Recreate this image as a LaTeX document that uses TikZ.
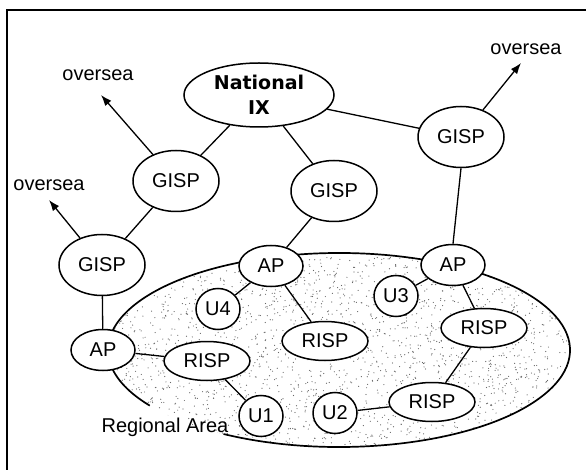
\documentclass[tikz,border=0pt]{standalone}
\usepackage{fontspec}
\setmainfont{Liberation Sans}
\newfontfamily\ixfont{DejaVu Sans}
\usetikzlibrary{shapes.geometric,arrows.meta,calc}

\tikzset{
  net/.style={ellipse, draw=black, line width=1.5pt, fill=white, inner sep=0pt,
    font=\fontsize{20}{22}\selectfont},
  gisp/.style={net, minimum width=86pt, minimum height=61pt},
  apnode/.style={net, minimum width=64pt, minimum height=41pt},
  risp/.style={net, minimum width=86pt, minimum height=39pt},
  user/.style={net, minimum width=44pt, minimum height=41pt},
  link/.style={draw=black, line width=1.3pt},
  abroad/.style={link, -{Latex[length=11pt,width=8pt]}},
  lbl/.style={font=\fontsize{20}{22}\selectfont, inner sep=0pt}
}

\begin{document}
\begin{tikzpicture}[x=1pt, y=1pt]
  \useasboundingbox (0,0) rectangle (586,-470);

  % outer frame (runs past the right and bottom edges)
  \draw[line width=1.6pt] (7,-600) -- (7,-10) -- (700,-10);

  % stippled regional area
  \begin{scope}
    \clip (339,-350) ellipse [x radius=231, y radius=97];
    \pgfmathsetseed{11}
    \foreach \i in {1,...,2600}{
      \fill[black!60] ({104+470*rnd},{-250-200*rnd}) circle [radius=0.6];
    }
  \end{scope}
  \draw[line width=1.7pt] ($(339,-350)+(240:231 and 97)$)
    arc [start angle=240, end angle=575, x radius=231, y radius=97];
  \node[lbl] (area) at (165,-427) {Regional Area};

  % national exchange
  \node[net, minimum width=150pt, minimum height=64pt, align=center,
        font=\ixfont\bfseries\fontsize{19}{25}\selectfont] (ix) at (259,-95) {National\\IX};

  % global ISPs
  \node[gisp] (g1) at (176,-181) {GISP};
  \node[gisp] (g2) at (334,-191) {GISP};
  \node[gisp] (g3) at (461,-137) {GISP};
  \node[gisp] (g4) at (102,-265) {GISP};

  % access points
  \node[apnode] (ap1) at (103,-350) {AP};
  \node[apnode] (ap2) at (271,-266) {AP};
  \node[apnode] (ap3) at (453,-265) {AP};

  % regional ISPs
  \node[risp] (r1) at (207,-361) {RISP};
  \node[risp] (r2) at (325,-341) {RISP};
  \node[risp] (r3) at (484,-328) {RISP};
  \node[risp] (r4) at (432,-402) {RISP};

  % users
  \node[user] (u1) at (261,-416) {U1};
  \node[user] (u2) at (335,-413) {U2};
  \node[user] (u3) at (396,-296) {U3};
  \node[user] (u4) at (218,-309) {U4};

  % overseas links
  \coordinate (o1) at (101,-95);
  \coordinate (o2) at (49,-200);
  \coordinate (o3) at (521,-63);
  \node[lbl] (t1) at (98,-75) {oversea};
  \node[lbl] (t2) at (49,-185) {oversea};
  \node[lbl] (t3) at (526,-49) {oversea};
  \draw[abroad] (g1) -- (o1);
  \draw[abroad] (g4) -- (o2);
  \draw[abroad] (g3) -- (o3);

  % backbone links
  \draw[link] (ix) -- (g1);
  \draw[link] (ix) -- (g2);
  \draw[link] (ix) -- (g3);
  \draw[link] (g1) -- (g4);
  \draw[link] (g4) -- (ap1);
  \draw[link] (g2) -- (ap2);
  \draw[link] (g3.south) -- (ap3.north);

  % regional links
  \draw[link] (ap1) -- (r1);
  \draw[link] (r1) -- (u1);
  \draw[link] (ap2) -- (u4);
  \draw[link] (ap2) -- (r2);
  \draw[link] (ap3) -- (u3);
  \draw[link] (ap3) -- (r3);
  \draw[link] (r3) -- (r4);
  \draw[link] (u2) -- (r4);
\end{tikzpicture}
\end{document}
